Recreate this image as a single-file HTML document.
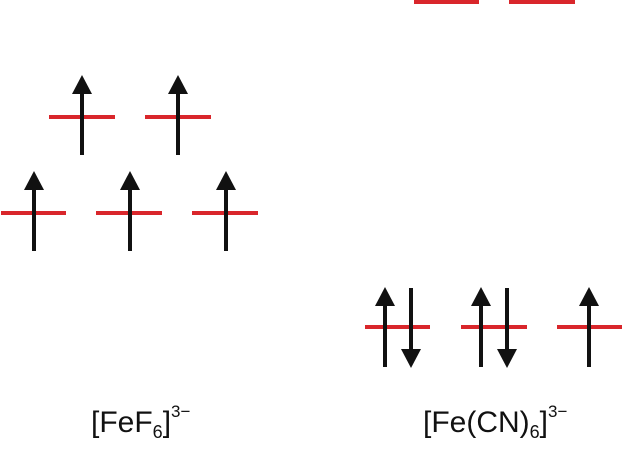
<!DOCTYPE html>
<html><head><style>
body{margin:0;background:#fff;width:622px;height:444px;overflow:hidden}
</style></head><body>
<svg width="622" height="444" xmlns="http://www.w3.org/2000/svg">
<defs>
<g id="up"><rect x="-2" y="18" width="4" height="62" fill="#111"/><polygon points="0,0 -10,19 10,19" fill="#111"/></g>
<g id="dn"><rect x="-2" y="0" width="4" height="62" fill="#111"/><polygon points="0,80 -10,61 10,61" fill="#111"/></g>
</defs>
<g fill="#d9262b">
<rect x="49" y="115" width="66" height="4"/>
<rect x="145" y="115" width="66" height="4"/>
<rect x="1" y="211" width="65" height="4"/>
<rect x="96" y="211" width="66" height="4"/>
<rect x="192" y="211" width="66" height="4"/>
<rect x="414" y="0" width="65" height="4"/>
<rect x="509" y="0" width="66" height="4"/>
<rect x="365" y="325" width="65" height="4"/>
<rect x="461" y="325" width="66" height="4"/>
<rect x="557" y="325" width="65" height="4"/>
</g>
<use href="#up" x="82" y="75"/>
<use href="#up" x="178" y="75"/>
<use href="#up" x="34" y="171"/>
<use href="#up" x="130" y="171"/>
<use href="#up" x="226" y="171"/>
<use href="#up" x="385" y="287"/>
<use href="#dn" x="411" y="288"/>
<use href="#up" x="481" y="287"/>
<use href="#dn" x="507" y="288"/>
<use href="#up" x="589" y="287"/>
<text x="91" y="432" font-family="Liberation Sans, sans-serif" font-size="30" fill="#111">[FeF<tspan font-size="18" dy="6">6</tspan><tspan dy="-6">]</tspan><tspan font-size="17" dy="-15">3−</tspan></text>
<text x="423" y="432" font-family="Liberation Sans, sans-serif" font-size="30" fill="#111">[Fe(CN)<tspan font-size="18" dy="6">6</tspan><tspan dy="-6">]</tspan><tspan font-size="17" dy="-15">3−</tspan></text>
</svg>
</body></html>
